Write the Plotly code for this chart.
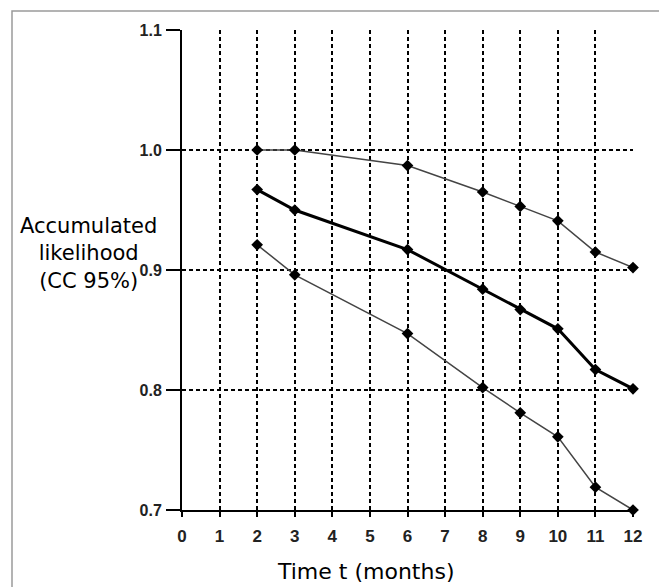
import plotly.graph_objects as go

months = [2, 3, 6, 8, 9, 10, 11, 12]
upper = [1.000, 1.000, 0.987, 0.965, 0.953, 0.941, 0.915, 0.902]
middle = [0.967, 0.950, 0.917, 0.884, 0.867, 0.851, 0.817, 0.801]
lower = [0.921, 0.896, 0.847, 0.802, 0.781, 0.761, 0.719, 0.700]
x_ticks = list(range(0, 13))
y_ticks = [0.7, 0.8, 0.9, 1.0, 1.1]

FONT = "Liberation Sans, Arial, sans-serif"
TFONT = "DejaVu Sans, Liberation Sans, sans-serif"

fig = go.Figure()
for vals, w, col in [(upper, 1.5, "#444444"), (lower, 1.5, "#444444"), (middle, 3, "black")]:
    fig.add_trace(go.Scatter(
        x=months, y=vals, mode="lines+markers",
        line=dict(color=col, width=w),
        marker=dict(symbol="diamond", size=9, color="black"),
        cliponaxis=False, showlegend=False, hoverinfo="x+y",
    ))

# page body has an 8px margin; figure sized to fill the rest of the 667x587 window
OFF = 8
W, H = 667 - OFF, 587 - OFF
L, T = 182 - OFF, 30 - OFF
R = W - (633 - OFF)
B = H - (510 - OFF)
pw, ph = W - L - R, H - T - B


def px(xp):
    return (xp - OFF - L) / pw


def py(yp):
    return (H - B - (yp - OFF)) / ph


fig.update_layout(
    width=W, height=H,
    margin=dict(l=L, r=R, t=T, b=B),
    paper_bgcolor="white", plot_bgcolor="white",
    font=dict(family=FONT, color="black"),
    xaxis=dict(
        range=[0, 12], tickvals=x_ticks, ticktext=[str(v) for v in x_ticks],
        showgrid=True, gridcolor="black", gridwidth=2, griddash="4px,3px",
        showline=True, linecolor="black", linewidth=2,
        ticks="outside", ticklen=5, tickwidth=2, tickcolor="black",
        tickfont=dict(size=17, family=FONT, weight="bold", color="#222"),
        ticklabelstandoff=5,
        zeroline=False, fixedrange=True,
    ),
    yaxis=dict(
        range=[0.7, 1.1], tickvals=y_ticks, ticktext=["0.7", "0.8", "0.9", "1.0", "1.1"],
        showgrid=True, gridcolor="black", gridwidth=2, griddash="4px,3px",
        showline=True, linecolor="black", linewidth=2,
        ticks="outside", ticklen=14, tickwidth=2, tickcolor="black",
        tickfont=dict(size=16, family=FONT, weight="bold", color="#222"),
        ticklabelstandoff=1,
        zeroline=False, fixedrange=True,
    ),
    shapes=[dict(
        type="rect", xref="paper", yref="paper",
        x0=px(12), x1=px(666),
        y0=py(620), y1=py(11),
        line=dict(color="#9a9a9a", width=1.5), fillcolor="rgba(0,0,0,0)", layer="below",
    )],
    annotations=[
        dict(text="Accumulated<br>likelihood<br>(CC 95%)", xref="paper", yref="paper",
             x=px(88), y=py(253), xanchor="center", yanchor="middle",
             showarrow=False, align="center", font=dict(size=21, family=TFONT)),
        dict(text="Time t (months)", xref="paper", yref="paper",
             x=px(365), y=py(571), xanchor="center", yanchor="middle",
             showarrow=False, font=dict(size=22, family=TFONT)),
    ],
)

fig.write_html("out.html")
